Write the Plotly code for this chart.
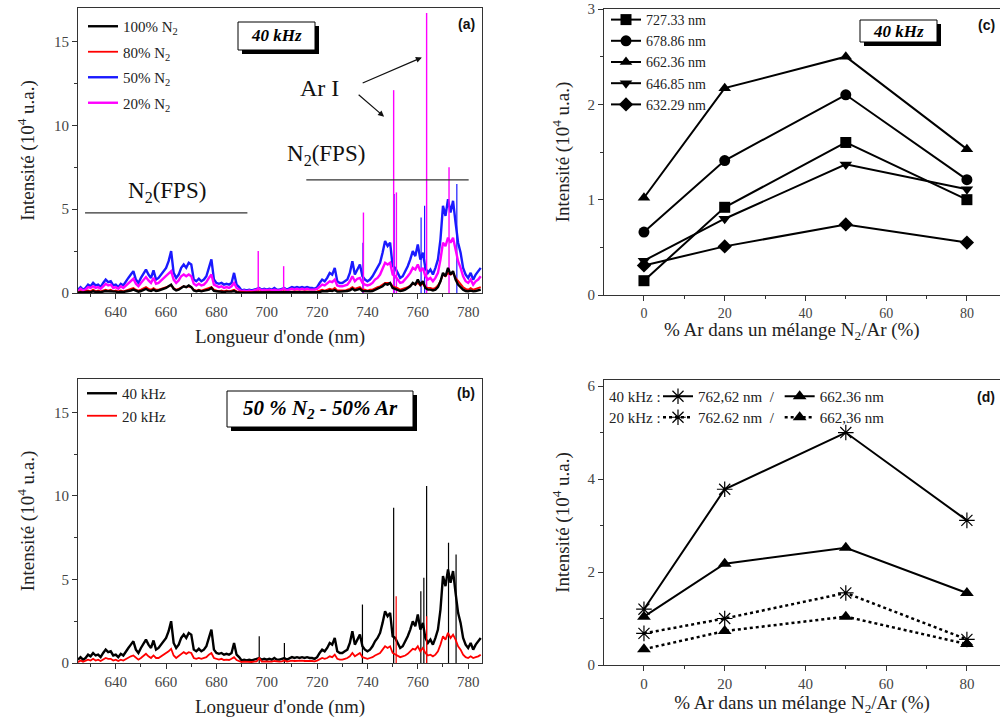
import plotly.graph_objects as go

# ---------------- data ----------------
wl = list(range(625, 786))  # nm, 1 nm step

# (a) 40 kHz spectra, intensity in 1e4 a.u.
n2_50 = [0.2, 0.35, 0.2, 0.3, 0.5, 0.4, 0.6, 0.45, 0.5, 0.35,
         0.6, 0.8, 0.65, 0.7, 0.45, 0.5, 0.35, 0.55, 0.45, 0.7,
         0.9, 1.1, 1.3, 0.8, 0.6, 0.9, 1.2, 1.4, 1.1, 0.9,
         1.35, 0.8, 0.9, 1.1, 1.3, 1.5, 1.9, 2.5, 1.2, 0.9,
         1.1, 1.5, 1.7, 1.5, 1.8, 1.7, 0.8, 0.7, 0.85, 0.7,
         0.8, 1.0, 1.5, 2.0, 0.8, 0.6, 0.55, 0.6, 0.5, 0.55,
         0.5, 0.6, 1.2, 0.5, 0.35, 0.15, 0.2, 0.15, 0.2, 0.15,
         0.2, 0.25, 0.3, 0.2, 0.25, 0.2, 0.25, 0.2, 0.3, 0.2,
         0.2, 0.25, 0.3, 0.2, 0.3, 0.35, 0.3, 0.35, 0.3, 0.35,
         0.3, 0.35, 0.3, 0.3, 0.25, 0.35, 0.6, 0.8, 0.7, 0.9,
         1.2, 1.1, 1.5, 0.7, 0.6, 0.6, 0.7, 0.8, 1.2, 1.9,
         1.1, 1.4, 1.7, 1.0, 0.8, 0.7, 0.8, 1.0, 1.3, 1.5,
         1.8, 2.4, 3.1, 2.8, 3.0, 1.6, 1.5, 1.2, 0.9, 1.0,
         1.3, 1.6, 2.0, 2.5, 2.2, 2.9, 2.0, 2.4, 1.5, 1.2,
         1.4, 1.1, 1.5, 2.0, 3.2, 5.2, 4.6, 5.6, 4.8, 5.5,
         4.2, 3.0, 2.4, 1.5, 1.1, 0.9, 1.2, 0.8, 1.1, 1.3, 1.5]
n2_20 = [0.1, 0.25, 0.15, 0.2, 0.35, 0.3, 0.4, 0.3, 0.35, 0.25,
         0.4, 0.55, 0.45, 0.5, 0.3, 0.35, 0.25, 0.4, 0.3, 0.45,
         0.6, 0.75, 0.85, 0.55, 0.4, 0.6, 0.8, 0.95, 0.75, 0.6,
         0.9, 0.55, 0.6, 0.75, 0.85, 1.0, 1.2, 1.3, 0.8, 0.6,
         0.75, 1.0, 1.1, 1.0, 1.1, 1.0, 0.55, 0.45, 0.55, 0.45,
         0.5, 0.65, 0.9, 1.1, 0.5, 0.4, 0.35, 0.4, 0.3, 0.35,
         0.3, 0.4, 0.6, 0.3, 0.2, 0.1, 0.15, 0.1, 0.15, 0.1,
         0.15, 0.2, 0.25, 0.15, 0.2, 0.15, 0.2, 0.15, 0.2, 0.15,
         0.15, 0.2, 0.25, 0.15, 0.2, 0.25, 0.2, 0.25, 0.2, 0.25,
         0.2, 0.25, 0.2, 0.2, 0.2, 0.25, 0.4, 0.5, 0.45, 0.55,
         0.7, 0.65, 0.8, 0.45, 0.4, 0.4, 0.45, 0.5, 0.7, 1.0,
         0.7, 0.85, 0.9, 0.6, 0.5, 0.45, 0.5, 0.6, 0.8, 0.9,
         1.1, 1.4, 1.8, 1.7, 1.8, 1.1, 1.0, 0.8, 0.6, 0.65,
         0.8, 1.0, 1.2, 1.5, 1.4, 1.7, 1.3, 1.5, 1.0, 0.8,
         0.9, 0.7, 0.9, 1.2, 2.0, 3.0, 2.8, 3.3, 3.0, 3.3,
         2.6, 1.9, 1.5, 1.0, 0.7, 0.6, 0.8, 0.5, 0.7, 0.8, 1.0]
n2_80 = [0.05, 0.1, 0.05, 0.1, 0.15, 0.1, 0.2, 0.1, 0.15, 0.1,
         0.15, 0.2, 0.15, 0.2, 0.1, 0.15, 0.1, 0.15, 0.1, 0.15,
         0.2, 0.25, 0.3, 0.2, 0.15, 0.2, 0.3, 0.35, 0.25, 0.2,
         0.3, 0.2, 0.2, 0.25, 0.3, 0.35, 0.4, 0.45, 0.3, 0.2,
         0.25, 0.35, 0.4, 0.35, 0.4, 0.35, 0.2, 0.15, 0.2, 0.15,
         0.2, 0.25, 0.3, 0.35, 0.2, 0.15, 0.1, 0.15, 0.1, 0.15,
         0.1, 0.15, 0.2, 0.1, 0.08, 0.05, 0.06, 0.05, 0.06, 0.05,
         0.06, 0.08, 0.1, 0.06, 0.08, 0.06, 0.08, 0.06, 0.08, 0.06,
         0.06, 0.08, 0.1, 0.06, 0.08, 0.1, 0.08, 0.1, 0.08, 0.1,
         0.08, 0.1, 0.08, 0.08, 0.08, 0.1, 0.15, 0.2, 0.15, 0.2,
         0.25, 0.2, 0.3, 0.15, 0.15, 0.15, 0.15, 0.2, 0.25, 0.35,
         0.25, 0.3, 0.35, 0.2, 0.2, 0.15, 0.2, 0.2, 0.3, 0.35,
         0.4, 0.5, 0.6, 0.6, 0.6, 0.4, 0.35, 0.3, 0.2, 0.25,
         0.3, 0.35, 0.45, 0.55, 0.5, 0.6, 0.45, 0.55, 0.35, 0.3,
         0.3, 0.25, 0.3, 0.45, 0.7, 1.1, 1.0, 1.2, 1.1, 1.2,
         0.9, 0.7, 0.5, 0.35, 0.25, 0.2, 0.3, 0.2, 0.25, 0.3, 0.35]
n2_100 = [0.02, 0.05, 0.03, 0.05, 0.08, 0.05, 0.1, 0.06, 0.08, 0.05,
          0.08, 0.12, 0.1, 0.1, 0.06, 0.08, 0.05, 0.08, 0.06, 0.08,
          0.12, 0.15, 0.2, 0.12, 0.08, 0.12, 0.2, 0.25, 0.15, 0.12,
          0.2, 0.12, 0.15, 0.2, 0.25, 0.3, 0.4, 0.5, 0.25, 0.15,
          0.2, 0.3, 0.4, 0.35, 0.45, 0.35, 0.15, 0.1, 0.15, 0.1,
          0.12, 0.15, 0.2, 0.3, 0.12, 0.1, 0.08, 0.1, 0.06, 0.08,
          0.06, 0.08, 0.12, 0.05, 0.03, 0.02, 0.03, 0.02, 0.03, 0.02,
          0.03, 0.03, 0.04, 0.03, 0.03, 0.02, 0.03, 0.02, 0.03, 0.02,
          0.02, 0.03, 0.04, 0.02, 0.03, 0.04, 0.03, 0.04, 0.03, 0.04,
          0.03, 0.04, 0.03, 0.03, 0.03, 0.04, 0.06, 0.1, 0.08, 0.1,
          0.15, 0.12, 0.18, 0.08, 0.08, 0.08, 0.1, 0.12, 0.15, 0.25,
          0.15, 0.2, 0.25, 0.12, 0.1, 0.08, 0.1, 0.12, 0.18, 0.25,
          0.3, 0.4, 0.55, 0.5, 0.6, 0.3, 0.25, 0.2, 0.12, 0.15,
          0.2, 0.3, 0.4, 0.6, 0.5, 0.8, 0.5, 0.7, 0.3, 0.2,
          0.2, 0.15, 0.2, 0.35, 0.7, 1.2, 1.0, 1.5, 1.1, 1.3,
          0.8, 0.5, 0.35, 0.2, 0.12, 0.1, 0.15, 0.1, 0.12, 0.15, 0.2]

# sharp atomic lines (position nm, height 1e4 a.u.)
n2_50_lines_pos = [738.2, 750.6, 761.3, 762.7, 775.5]
n2_50_lines_h = [3.0, 5.9, 4.5, 5.2, 6.5]
n2_20_lines_pos = [696.6, 706.7, 738.4, 750.4, 751.5, 763.5, 772.4]
n2_20_lines_h = [2.5, 1.6, 4.8, 12.1, 6.0, 16.7, 7.5]

# (b) 50% N2 - 50% Ar
f40k = n2_50
f20k = [0.05, 0.15, 0.08, 0.12, 0.2, 0.15, 0.25, 0.15, 0.2, 0.12,
        0.2, 0.3, 0.25, 0.25, 0.15, 0.2, 0.12, 0.2, 0.15, 0.25,
        0.3, 0.4, 0.45, 0.3, 0.2, 0.3, 0.45, 0.55, 0.4, 0.3,
        0.45, 0.3, 0.3, 0.4, 0.5, 0.55, 0.7, 0.85, 0.45, 0.3,
        0.4, 0.55, 0.65, 0.55, 0.65, 0.6, 0.3, 0.25, 0.3, 0.25,
        0.3, 0.35, 0.5, 0.6, 0.3, 0.25, 0.2, 0.25, 0.18, 0.2,
        0.18, 0.25, 0.35, 0.18, 0.12, 0.06, 0.08, 0.06, 0.08, 0.06,
        0.08, 0.1, 0.3, 0.08, 0.1, 0.08, 0.1, 0.08, 0.12, 0.08,
        0.08, 0.1, 0.15, 0.08, 0.12, 0.14, 0.12, 0.14, 0.12, 0.14,
        0.12, 0.14, 0.12, 0.12, 0.1, 0.14, 0.2, 0.3, 0.25, 0.3,
        0.4, 0.35, 0.5, 0.25, 0.2, 0.2, 0.25, 0.3, 0.4, 0.6,
        0.4, 0.5, 0.6, 0.35, 0.3, 0.25, 0.3, 0.35, 0.45, 0.55,
        0.6, 0.8, 1.0, 0.9, 1.0, 0.6, 0.5, 0.45, 0.35, 0.4,
        0.45, 0.55, 0.7, 0.85, 0.8, 1.0, 0.7, 0.9, 0.6, 0.45,
        0.5, 0.4, 0.5, 0.7, 1.1, 1.6, 1.4, 1.8, 1.5, 1.7,
        1.4, 1.0, 0.8, 0.5, 0.35, 0.3, 0.4, 0.3, 0.35, 0.4, 0.5]
f40k_lines_pos = [697.0, 707.0, 738.0, 750.4, 761.2, 762.4, 763.5, 772.2, 775.2]
f40k_lines_h = [1.6, 1.2, 3.5, 9.3, 4.3, 5.1, 10.6, 7.2, 6.5]
f20k_lines_pos = [751.4, 763.5]
f20k_lines_h = [4.0, 2.8]

# (c) line intensities vs % Ar, 40 kHz
pct_ar = [0, 20, 50, 80]
c_names = ["727.33 nm", "678.86 nm", "662.36 nm", "646.85 nm", "632.29 nm"]
c_symbols = ["square", "circle", "triangle-up", "triangle-down", "diamond"]
c_727 = [0.15, 0.92, 1.6, 1.0]
c_678 = [0.66, 1.41, 2.1, 1.21]
c_662 = [1.02, 2.17, 2.5, 1.53]
c_646 = [0.36, 0.8, 1.37, 1.11]
c_632 = [0.31, 0.51, 0.74, 0.55]

# (d) 40 kHz vs 20 kHz
d_762_40k = [1.2, 3.78, 5.0, 3.11]
d_662_40k = [1.04, 2.18, 2.52, 1.55]
d_762_20k = [0.68, 1.0, 1.55, 0.55]
d_662_20k = [0.34, 0.73, 1.04, 0.45]

# ---------------- figure ----------------
SERIF = "Liberation Serif"
W, H = 1000, 722


def px(x):
    return x / W


def py(y):
    return 1 - y / H


def lines(pos, h):
    xs, ys = [], []
    for p, v in zip(pos, h):
        xs += [p, p, None]
        ys += [0, v, None]
    return xs, ys


fig = go.Figure()

BLUE, MAG, RED = "#1a1aff", "#ff00ff", "#ff0000"
SW = 2.4

# panel (a)
lx, ly = lines(n2_50_lines_pos, n2_50_lines_h)
fig.add_trace(go.Scatter(x=wl, y=n2_50, mode="lines", line=dict(color=BLUE, width=SW),
                         name="50% N<sub>2</sub>", legend="legend", legendgroup="g3", legendrank=3,
                         xaxis="x", yaxis="y"))
fig.add_trace(go.Scatter(x=lx, y=ly, mode="lines", line=dict(color=BLUE, width=1.2),
                         showlegend=False, xaxis="x", yaxis="y"))
lx, ly = lines(n2_20_lines_pos, n2_20_lines_h)
fig.add_trace(go.Scatter(x=wl, y=n2_20, mode="lines", line=dict(color=MAG, width=SW),
                         name="20% N<sub>2</sub>", legend="legend", legendgroup="g4", legendrank=4,
                         xaxis="x", yaxis="y"))
fig.add_trace(go.Scatter(x=lx, y=ly, mode="lines", line=dict(color=MAG, width=1.4),
                         showlegend=False, xaxis="x", yaxis="y"))
fig.add_trace(go.Scatter(x=wl, y=n2_80, mode="lines", line=dict(color=RED, width=1.8),
                         name="80% N<sub>2</sub>", legend="legend", legendgroup="g2", legendrank=2,
                         xaxis="x", yaxis="y"))
fig.add_trace(go.Scatter(x=wl, y=n2_100, mode="lines", line=dict(color="black", width=SW),
                         name="100% N<sub>2</sub>", legend="legend", legendgroup="g1", legendrank=1,
                         xaxis="x", yaxis="y"))

# panel (b)
lx, ly = lines(f40k_lines_pos, f40k_lines_h)
fig.add_trace(go.Scatter(x=wl, y=f40k, mode="lines", line=dict(color="black", width=SW),
                         name="40 kHz", legend="legend2", legendrank=1, xaxis="x2", yaxis="y2"))
fig.add_trace(go.Scatter(x=lx, y=ly, mode="lines", line=dict(color="black", width=1.2),
                         showlegend=False, xaxis="x2", yaxis="y2"))
lx, ly = lines(f20k_lines_pos, f20k_lines_h)
fig.add_trace(go.Scatter(x=wl, y=f20k, mode="lines", line=dict(color=RED, width=1.8),
                         name="20 kHz", legend="legend2", legendrank=2, xaxis="x2", yaxis="y2"))
fig.add_trace(go.Scatter(x=lx, y=ly, mode="lines", line=dict(color=RED, width=1.2),
                         showlegend=False, xaxis="x2", yaxis="y2"))

# panel (c)
for name, sym, vals in zip(c_names, c_symbols, [c_727, c_678, c_662, c_646, c_632]):
    fig.add_trace(go.Scatter(x=pct_ar, y=vals, mode="lines+markers", name=name,
                             line=dict(color="black", width=2),
                             marker=dict(symbol=sym, size=11, color="black"),
                             legend="legend3", xaxis="x3", yaxis="y3"))

# panel (d)
fig.add_trace(go.Scatter(x=pct_ar, y=d_762_40k, mode="lines+markers", name="762,62 nm  /",
                         line=dict(color="black", width=2),
                         marker=dict(symbol="asterisk-open", size=13, color="black", line=dict(width=1.2, color="black")),
                         legend="legend4", xaxis="x4", yaxis="y4"))
fig.add_trace(go.Scatter(x=pct_ar, y=d_662_40k, mode="lines+markers", name="662.36 nm",
                         line=dict(color="black", width=2),
                         marker=dict(symbol="triangle-up", size=12, color="black"),
                         legend="legend4", xaxis="x4", yaxis="y4"))
fig.add_trace(go.Scatter(x=pct_ar, y=d_762_20k, mode="lines+markers", name="762.62 nm  /",
                         line=dict(color="black", width=2.5, dash="dot"),
                         marker=dict(symbol="asterisk-open", size=13, color="black", line=dict(width=1.2, color="black")),
                         legend="legend5", xaxis="x4", yaxis="y4"))
fig.add_trace(go.Scatter(x=pct_ar, y=d_662_20k, mode="lines+markers", name="662,36 nm",
                         line=dict(color="black", width=2.5, dash="dot"),
                         marker=dict(symbol="triangle-up", size=12, color="black"),
                         legend="legend5", xaxis="x4", yaxis="y4"))

# ---------------- axes ----------------
tickfont = dict(family=SERIF, size=15, color="#444")
titlefont = dict(family=SERIF, size=19, color="#222")
ytitle = "Intensité (10<sup>4</sup> u.a.)"
xtitle_spec = "Longueur d'onde (nm)"
xtitle_pct = "% Ar dans un mélange N<sub>2</sub>/Ar (%)"


def axis(domain, rng, dtick, minor, title, anchor, tick0=0, standoff=5, tf=tickfont):
    return dict(domain=domain, range=rng, dtick=dtick, tick0=tick0, showgrid=False, zeroline=False,
                showline=True, mirror=True, linecolor="#333", linewidth=1,
                ticks="outside", ticklen=5, tickcolor="#333", tickfont=tf,
                minor=dict(dtick=minor, ticks="outside", ticklen=3, tickcolor="#333"),
                title=dict(text=title, font=titlefont, standoff=standoff), anchor=anchor)


LEGFONT = dict(family=SERIF, size=15, color="#222")
fig.update_layout(
    width=W, height=H, margin=dict(l=0, r=0, t=0, b=0, autoexpand=False),
    paper_bgcolor="white", plot_bgcolor="white",
    xaxis=axis([px(78), px(482)], [625, 785.5], 20, 10, xtitle_spec, "y", tick0=640, standoff=10),
    yaxis=axis([py(293), py(8)], [0, 17], 5, 2.5, ytitle, "x", standoff=14),
    xaxis2=axis([px(78), px(482)], [625, 785.5], 20, 10, xtitle_spec, "y2", tick0=640, standoff=10),
    yaxis2=axis([py(663), py(379)], [0, 17], 5, 2.5, ytitle, "x2", standoff=14),
    xaxis3=axis([px(604), 1.0], [-9.9, 88.2], 20, 10, "", "y3",
                tf=dict(family=SERIF, size=14, color="#444")),
    yaxis3=axis([py(295), py(9)], [0, 3], 1, 0.5, ytitle, "x3", standoff=12),
    xaxis4=axis([px(604), 1.0], [-9.9, 88.2], 20, 10, xtitle_pct, "y4", standoff=2),
    yaxis4=axis([py(665), py(380)], [0, 6.13], 2, 1, ytitle, "x4", standoff=12),
    legend=dict(x=px(83), y=py(10), xanchor="left", yanchor="top", bgcolor="rgba(0,0,0,0)",
                font=LEGFONT, tracegroupgap=3),
    legend2=dict(x=px(82), y=py(377), xanchor="left", yanchor="top", bgcolor="rgba(0,0,0,0)",
                 font=LEGFONT),
    legend3=dict(x=px(606), y=py(4), xanchor="left", yanchor="top", bgcolor="rgba(0,0,0,0)",
                 font=dict(family=SERIF, size=14, color="#222")),
    legend4=dict(x=px(658), y=py(380), xanchor="left", yanchor="top", orientation="h", bgcolor="rgba(0,0,0,0)",
                 font=LEGFONT),
    legend5=dict(x=px(658), y=py(401), xanchor="left", yanchor="top", orientation="h", bgcolor="rgba(0,0,0,0)",
                 font=LEGFONT),
)

shapes = []
annots = []


def text(x, y, t, font, xanchor="center"):
    annots.append(dict(xref="paper", yref="paper", x=px(x), y=py(y), text=t, showarrow=False,
                       xanchor=xanchor, yanchor="middle", font=font))


def boxed(x0, y0, x1, y1, t, size):
    shapes.append(dict(type="rect", xref="paper", yref="paper", x0=px(x0 + 4), x1=px(x1 + 4),
                       y0=py(y1 + 4), y1=py(y0 + 4), fillcolor="black", line=dict(width=0)))
    shapes.append(dict(type="rect", xref="paper", yref="paper", x0=px(x0), x1=px(x1),
                       y0=py(y1), y1=py(y0), fillcolor="white", line=dict(color="black", width=1)))
    text((x0 + x1) / 2, (y0 + y1) / 2, f"<b><i>{t}</i></b>", dict(family=SERIF, size=size, color="black"))


boxed(238, 22, 315, 50, "40 kHz", 17)
boxed(227, 391, 413, 427, "50 % N<sub>2</sub> - 50% Ar", 21)
boxed(860, 20, 937, 42, "40 kHz", 17)

for lab, x, y in [("(a)", 466, 24), ("(b)", 466, 393), ("(c)", 986, 25), ("(d)", 986, 397)]:
    text(x, y, f"<b>{lab}</b>", dict(family="Liberation Sans", size=14, color="#111"))

# x title of panel (c) (sits close to its tick labels, as in the original)
text(792, 331, xtitle_pct, titlefont)

# N2(FPS) labels and bars in panel (a)
shapes.append(dict(type="line", xref="x", yref="y", x0=627.8, x1=692.3, y0=4.78, y1=4.78,
                   line=dict(color="#333", width=1.2)))
shapes.append(dict(type="line", xref="x", yref="y", x0=715.7, x1=780.2, y0=6.75, y1=6.75,
                   line=dict(color="#333", width=1.2)))
annots.append(dict(xref="x", yref="y", x=660.2, y=6.0, text="N<sub>2</sub>(FPS)", showarrow=False,
                   xanchor="center", yanchor="middle", font=dict(family=SERIF, size=23, color="#111")))
annots.append(dict(xref="x", yref="y", x=723.6, y=8.25, text="N<sub>2</sub>(FPS)", showarrow=False,
                   xanchor="center", yanchor="middle", font=dict(family=SERIF, size=23, color="#111")))
annots.append(dict(xref="x", yref="y", x=720.8, y=12.2, text="Ar I", showarrow=False,
                   xanchor="center", yanchor="middle", font=dict(family=SERIF, size=24, color="#111")))
for (x0, y0, x1, y1) in [(737.5, 12.49, 761.6, 14.05), (735.9, 11.9, 746.6, 10.52)]:
    annots.append(dict(xref="x", yref="y", axref="x", ayref="y", x=x1, y=y1, ax=x0, ay=y0, text="",
                       showarrow=True, arrowhead=2, arrowsize=1, arrowwidth=1.2, arrowcolor="#111"))

# legend prefixes in panel (d)
text(607, 397, "40 kHz :", LEGFONT, xanchor="left")
text(607, 418, "20 kHz :", LEGFONT, xanchor="left")

fig.update_layout(shapes=shapes, annotations=annots)
fig.write_html("out.html", config={"displayModeBar": False},
               post_script="document.body.style.margin='0px';")
